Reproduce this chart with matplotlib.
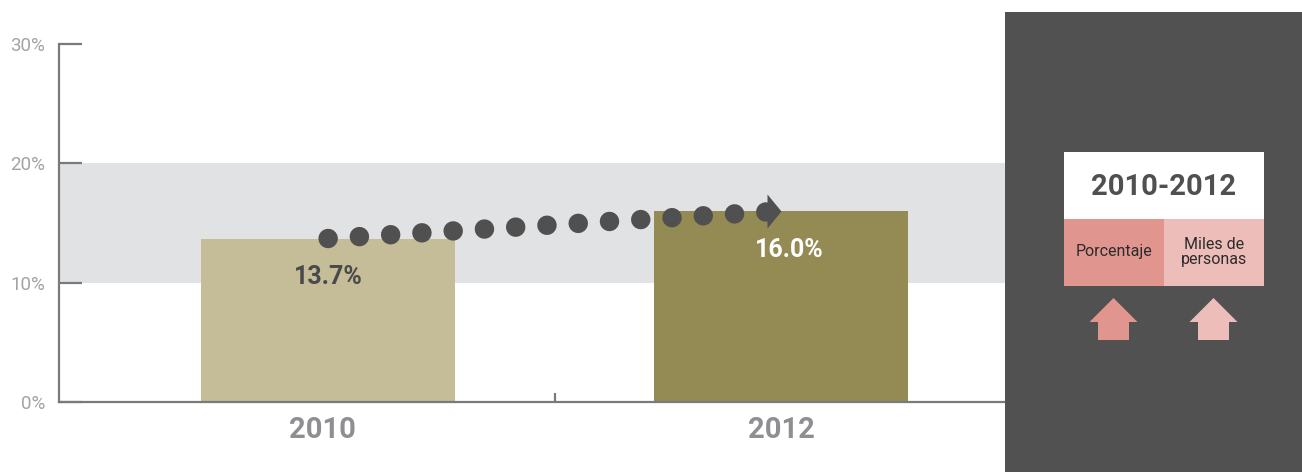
import matplotlib
matplotlib.use("Agg")
import matplotlib.pyplot as plt
from matplotlib.path import Path
from matplotlib.patches import Rectangle, Polygon
from matplotlib.transforms import ScaledTranslation

# ---- data ----
years = ["2010", "2012"]
values = [13.7, 16.0]
value_labels = ["13.7%", "16.0%"]
yticks = [0, 10, 20, 30]
ytick_labels = ["0%", "10%", "20%", "30%"]
band_range = (10, 20)
panel_title = "2010-2012"
panel_cells = ["Porcentaje", "Miles de\npersonas"]

W, H = 1302, 472
fig = plt.figure(figsize=(W / 100, H / 100), dpi=100)
fig.patch.set_facecolor("white")

FONT = "Roboto"
AXIS_C = "#7a7a7a"

ax = fig.add_axes([59 / W, (H - 402) / H, (1005 - 59) / W, 358 / H])
x = list(range(len(years)))
ax.set_xlim(-0.594, 1.494)
ax.set_ylim(0, 30)

# gray band
ax.axhspan(band_range[0], band_range[1], color="#e1e2e4", zorder=0, lw=0)

bar_colors = ["#c4bd97", "#948a54"]
ax.bar(x, values, width=0.56, color=bar_colors, zorder=2, linewidth=0)

# value labels
ax.text(x[0], values[0] - 3.2, value_labels[0], ha="center", va="center",
        fontsize=18, fontweight="bold", color="#4a4a4a", family=FONT, zorder=5)
ax.text(x[1] + 0.018, values[1] - 3.3, value_labels[1], ha="center", va="center",
        fontsize=18, fontweight="bold", color="white", family=FONT, zorder=5)

# dotted connector
DOT_C = "#505050"
lw_px = 19.5
ax.plot(x, values, color=DOT_C, lw=lw_px * 0.72, linestyle=(0, (0.001, 31.3 / lw_px)),
        dash_capstyle="round", zorder=4)
arrow_marker = Path([(0, 0), (-14, 17), (-14, -17), (0, 0)],
                    [Path.MOVETO, Path.LINETO, Path.LINETO, Path.CLOSEPOLY])
ax.plot([x[1]], [values[1]], marker=arrow_marker, markersize=34 * 0.72,
        color=DOT_C, markeredgewidth=0, linestyle="none", zorder=4)

# axes styling
for s in ["top", "right"]:
    ax.spines[s].set_visible(False)
for s in ["left", "bottom"]:
    ax.spines[s].set_color(AXIS_C)
    ax.spines[s].set_linewidth(1.6)
ax.set_yticks(yticks)
ax.set_yticklabels(ytick_labels, family=FONT, fontsize=13.5, color="#a3a3a3")
ax.tick_params(axis="y", direction="in", length=16.5, width=1.6, color=AXIS_C, pad=10)
ax.set_xticks(x)
ax.set_xticklabels(years, family=FONT, fontsize=21, fontweight="bold", color="#8e8f92")
ax.tick_params(axis="x", which="major", length=0, pad=10)
# first category label sits slightly left of its bar centre in the reference
lbl = ax.get_xticklabels()[0]
lbl.set_transform(lbl.get_transform() + ScaledTranslation(-6 / 100, 0, fig.dpi_scale_trans))
ax.set_xticks([0.5], minor=True)
ax.tick_params(axis="x", which="minor", direction="in", length=6.5, width=1.6, color=AXIS_C)

# ---- right dark panel ----
pax = fig.add_axes([1005 / W, 0, (W - 1005) / W, 460 / H])
pax.set_xlim(1005, W)
pax.set_ylim(H, 12)
pax.axis("off")
pax.add_patch(Rectangle((1005, 12), W - 1005, H - 12, color="#515151", lw=0))
pax.add_patch(Rectangle((1064, 152), 200, 67, color="white", lw=0))
cell_colors = ["#e0958f", "#edbdba"]
pax.add_patch(Rectangle((1064, 219), 100, 67, color=cell_colors[0], lw=0))
pax.add_patch(Rectangle((1164, 219), 100, 67, color=cell_colors[1], lw=0))
pax.text(1164, 187, panel_title, ha="center", va="center", fontsize=21,
         fontweight="bold", color="#505050", family=FONT)
pax.text(1114, 252, panel_cells[0], ha="center", va="center", fontsize=11.5,
         color="#2b2b2b", family=FONT)
pax.text(1214, 252, panel_cells[1], ha="center", va="center", fontsize=11.5,
         color="#2b2b2b", family=FONT, linespacing=1.0)


def up_arrow(cx, color):
    pts = [(cx, 298), (cx + 24, 322), (cx + 15.5, 322), (cx + 15.5, 340),
           (cx - 15.5, 340), (cx - 15.5, 322), (cx - 24, 322)]
    pax.add_patch(Polygon(pts, closed=True, color=color, lw=0))


up_arrow(1113.5, cell_colors[0])
up_arrow(1213.5, cell_colors[1])

fig.savefig("out.png", dpi=100)
